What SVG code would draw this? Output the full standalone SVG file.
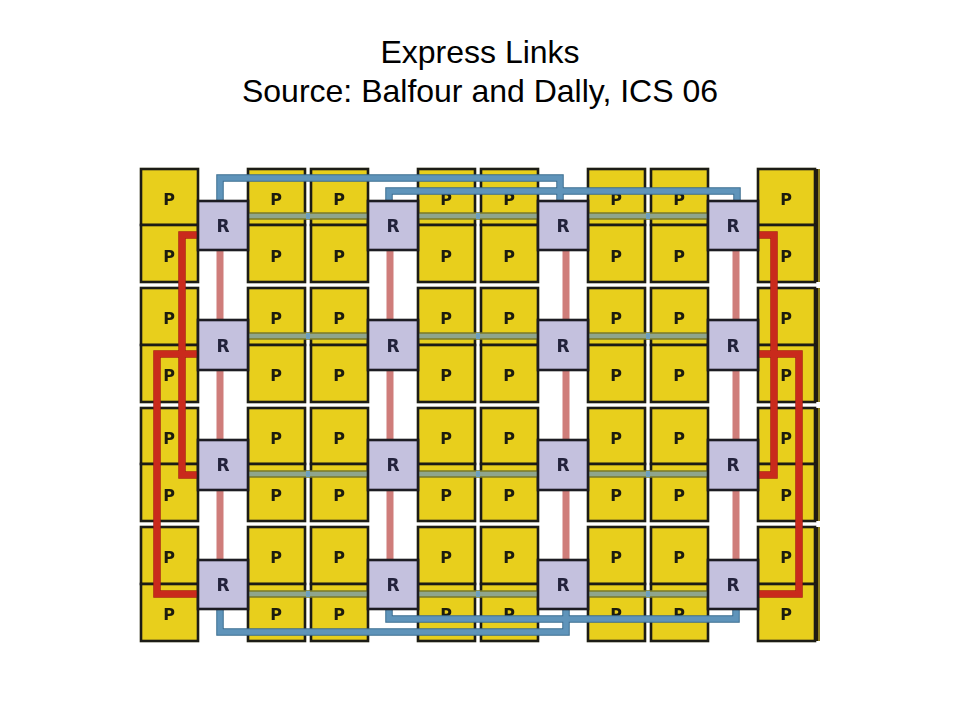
<svg xmlns="http://www.w3.org/2000/svg" width="960" height="720" viewBox="0 0 960 720">
<defs><filter id="soft" x="-2%" y="-2%" width="104%" height="104%"><feGaussianBlur stdDeviation="0.45"/></filter></defs>
<style>
.title{font-family:"Liberation Sans",Arial,sans-serif;font-size:32px;fill:#000;text-anchor:middle}
.p{fill:#e8cf1f;stroke:#1b1a12;stroke-width:2.6}
.r{fill:#c4c1de;stroke:#1b1a22;stroke-width:2.6}
.pt,.rt{font-family:"DejaVu Sans",sans-serif;font-weight:bold;text-anchor:middle}
.pt{font-size:16px;fill:#1e1c10}
.rt{font-size:17px;fill:#23233a}
.link{fill:none;stroke-linejoin:miter}
.be{stroke:#3a6c90;stroke-width:7.5}.bc{stroke:#5f94ba;stroke-width:5.5}
.ge{stroke:#7a7a28;stroke-width:7.5}.gc{stroke:#8fa58c;stroke-width:4.5}
.gg{stroke:#6c9fc0;stroke-width:6}
.pk{stroke:#cf7d7a;stroke-width:7}
.re{stroke:#a82018;stroke-width:7.5}.rc{stroke:#c92a1e;stroke-width:6}
</style>
<rect width="960" height="720" fill="#fff"/>
<text class="title" x="480" y="63">Express Links</text>
<text class="title" x="480" y="102">Source: Balfour and Dally, ICS 06</text>
<g filter="url(#soft)">
<g id="edge">
<rect x="815" y="169" width="3" height="113" fill="#241f10"/><rect x="818" y="169" width="2" height="113" fill="#8a7d20"/>
<rect x="815" y="288" width="3" height="114" fill="#241f10"/><rect x="818" y="288" width="2" height="114" fill="#8a7d20"/>
<rect x="815" y="408" width="3" height="113" fill="#241f10"/><rect x="818" y="408" width="2" height="113" fill="#8a7d20"/>
<rect x="815" y="527" width="3" height="114" fill="#241f10"/><rect x="818" y="527" width="2" height="114" fill="#8a7d20"/>
</g>
<g id="p-row0">
<g id="p00"><rect class="p" x="141" y="169" width="57" height="56"/><text class="pt" x="169" y="205">P</text></g>
<g id="p01"><rect class="p" x="248" y="169" width="57" height="56"/><text class="pt" x="276" y="205">P</text></g>
<g id="p02"><rect class="p" x="311" y="169" width="57" height="56"/><text class="pt" x="339" y="205">P</text></g>
<g id="p03"><rect class="p" x="418" y="169" width="57" height="56"/><text class="pt" x="446" y="205">P</text></g>
<g id="p04"><rect class="p" x="481" y="169" width="57" height="56"/><text class="pt" x="509" y="205">P</text></g>
<g id="p05"><rect class="p" x="588" y="169" width="57" height="56"/><text class="pt" x="616" y="205">P</text></g>
<g id="p06"><rect class="p" x="651" y="169" width="57" height="56"/><text class="pt" x="679" y="205">P</text></g>
<g id="p07"><rect class="p" x="758" y="169" width="57" height="56"/><text class="pt" x="786" y="205">P</text></g>
</g>
<g id="p-row1">
<g id="p10"><rect class="p" x="141" y="225" width="57" height="57"/><text class="pt" x="169" y="262">P</text></g>
<g id="p11"><rect class="p" x="248" y="225" width="57" height="57"/><text class="pt" x="276" y="262">P</text></g>
<g id="p12"><rect class="p" x="311" y="225" width="57" height="57"/><text class="pt" x="339" y="262">P</text></g>
<g id="p13"><rect class="p" x="418" y="225" width="57" height="57"/><text class="pt" x="446" y="262">P</text></g>
<g id="p14"><rect class="p" x="481" y="225" width="57" height="57"/><text class="pt" x="509" y="262">P</text></g>
<g id="p15"><rect class="p" x="588" y="225" width="57" height="57"/><text class="pt" x="616" y="262">P</text></g>
<g id="p16"><rect class="p" x="651" y="225" width="57" height="57"/><text class="pt" x="679" y="262">P</text></g>
<g id="p17"><rect class="p" x="758" y="225" width="57" height="57"/><text class="pt" x="786" y="262">P</text></g>
</g>
<g id="p-row2">
<g id="p20"><rect class="p" x="141" y="288" width="57" height="57"/><text class="pt" x="169" y="324">P</text></g>
<g id="p21"><rect class="p" x="248" y="288" width="57" height="57"/><text class="pt" x="276" y="324">P</text></g>
<g id="p22"><rect class="p" x="311" y="288" width="57" height="57"/><text class="pt" x="339" y="324">P</text></g>
<g id="p23"><rect class="p" x="418" y="288" width="57" height="57"/><text class="pt" x="446" y="324">P</text></g>
<g id="p24"><rect class="p" x="481" y="288" width="57" height="57"/><text class="pt" x="509" y="324">P</text></g>
<g id="p25"><rect class="p" x="588" y="288" width="57" height="57"/><text class="pt" x="616" y="324">P</text></g>
<g id="p26"><rect class="p" x="651" y="288" width="57" height="57"/><text class="pt" x="679" y="324">P</text></g>
<g id="p27"><rect class="p" x="758" y="288" width="57" height="57"/><text class="pt" x="786" y="324">P</text></g>
</g>
<g id="p-row3">
<g id="p30"><rect class="p" x="141" y="345" width="57" height="57"/><text class="pt" x="169" y="381">P</text></g>
<g id="p31"><rect class="p" x="248" y="345" width="57" height="57"/><text class="pt" x="276" y="381">P</text></g>
<g id="p32"><rect class="p" x="311" y="345" width="57" height="57"/><text class="pt" x="339" y="381">P</text></g>
<g id="p33"><rect class="p" x="418" y="345" width="57" height="57"/><text class="pt" x="446" y="381">P</text></g>
<g id="p34"><rect class="p" x="481" y="345" width="57" height="57"/><text class="pt" x="509" y="381">P</text></g>
<g id="p35"><rect class="p" x="588" y="345" width="57" height="57"/><text class="pt" x="616" y="381">P</text></g>
<g id="p36"><rect class="p" x="651" y="345" width="57" height="57"/><text class="pt" x="679" y="381">P</text></g>
<g id="p37"><rect class="p" x="758" y="345" width="57" height="57"/><text class="pt" x="786" y="381">P</text></g>
</g>
<g id="p-row4">
<g id="p40"><rect class="p" x="141" y="408" width="57" height="56"/><text class="pt" x="169" y="444">P</text></g>
<g id="p41"><rect class="p" x="248" y="408" width="57" height="56"/><text class="pt" x="276" y="444">P</text></g>
<g id="p42"><rect class="p" x="311" y="408" width="57" height="56"/><text class="pt" x="339" y="444">P</text></g>
<g id="p43"><rect class="p" x="418" y="408" width="57" height="56"/><text class="pt" x="446" y="444">P</text></g>
<g id="p44"><rect class="p" x="481" y="408" width="57" height="56"/><text class="pt" x="509" y="444">P</text></g>
<g id="p45"><rect class="p" x="588" y="408" width="57" height="56"/><text class="pt" x="616" y="444">P</text></g>
<g id="p46"><rect class="p" x="651" y="408" width="57" height="56"/><text class="pt" x="679" y="444">P</text></g>
<g id="p47"><rect class="p" x="758" y="408" width="57" height="56"/><text class="pt" x="786" y="444">P</text></g>
</g>
<g id="p-row5">
<g id="p50"><rect class="p" x="141" y="464" width="57" height="57"/><text class="pt" x="169" y="501">P</text></g>
<g id="p51"><rect class="p" x="248" y="464" width="57" height="57"/><text class="pt" x="276" y="501">P</text></g>
<g id="p52"><rect class="p" x="311" y="464" width="57" height="57"/><text class="pt" x="339" y="501">P</text></g>
<g id="p53"><rect class="p" x="418" y="464" width="57" height="57"/><text class="pt" x="446" y="501">P</text></g>
<g id="p54"><rect class="p" x="481" y="464" width="57" height="57"/><text class="pt" x="509" y="501">P</text></g>
<g id="p55"><rect class="p" x="588" y="464" width="57" height="57"/><text class="pt" x="616" y="501">P</text></g>
<g id="p56"><rect class="p" x="651" y="464" width="57" height="57"/><text class="pt" x="679" y="501">P</text></g>
<g id="p57"><rect class="p" x="758" y="464" width="57" height="57"/><text class="pt" x="786" y="501">P</text></g>
</g>
<g id="p-row6">
<g id="p60"><rect class="p" x="141" y="527" width="57" height="57"/><text class="pt" x="169" y="563">P</text></g>
<g id="p61"><rect class="p" x="248" y="527" width="57" height="57"/><text class="pt" x="276" y="563">P</text></g>
<g id="p62"><rect class="p" x="311" y="527" width="57" height="57"/><text class="pt" x="339" y="563">P</text></g>
<g id="p63"><rect class="p" x="418" y="527" width="57" height="57"/><text class="pt" x="446" y="563">P</text></g>
<g id="p64"><rect class="p" x="481" y="527" width="57" height="57"/><text class="pt" x="509" y="563">P</text></g>
<g id="p65"><rect class="p" x="588" y="527" width="57" height="57"/><text class="pt" x="616" y="563">P</text></g>
<g id="p66"><rect class="p" x="651" y="527" width="57" height="57"/><text class="pt" x="679" y="563">P</text></g>
<g id="p67"><rect class="p" x="758" y="527" width="57" height="57"/><text class="pt" x="786" y="563">P</text></g>
</g>
<g id="p-row7">
<g id="p70"><rect class="p" x="141" y="584" width="57" height="57"/><text class="pt" x="169" y="620">P</text></g>
<g id="p71"><rect class="p" x="248" y="584" width="57" height="57"/><text class="pt" x="276" y="620">P</text></g>
<g id="p72"><rect class="p" x="311" y="584" width="57" height="57"/><text class="pt" x="339" y="620">P</text></g>
<g id="p73"><rect class="p" x="418" y="584" width="57" height="57"/><text class="pt" x="446" y="620">P</text></g>
<g id="p74"><rect class="p" x="481" y="584" width="57" height="57"/><text class="pt" x="509" y="620">P</text></g>
<g id="p75"><rect class="p" x="588" y="584" width="57" height="57"/><text class="pt" x="616" y="620">P</text></g>
<g id="p76"><rect class="p" x="651" y="584" width="57" height="57"/><text class="pt" x="679" y="620">P</text></g>
<g id="p77"><rect class="p" x="758" y="584" width="57" height="57"/><text class="pt" x="786" y="620">P</text></g>
</g>
<g id="connectors">
<g id="local-vertical">
<path class="link pk" d="M220 250V320M220 370V440M220 490V560"/>
<path class="link pk" d="M390 250V320M390 370V440M390 490V560"/>
<path class="link pk" d="M566 250V320M566 370V440M566 490V560"/>
<path class="link pk" d="M736 250V320M736 370V440M736 490V560"/>
</g>
<g id="local-horizontal">
<path class="link ge" d="M248 216H368M418 216H538M588 216H708M248 336H368M418 336H538M588 336H708M248 474H368M418 474H538M588 474H708M248 594H368M418 594H538M588 594H708"/>
<path class="link gc" d="M248 216H368M418 216H538M588 216H708M248 336H368M418 336H538M588 336H708M248 474H368M418 474H538M588 474H708M248 594H368M418 594H538M588 594H708"/>
<path class="link gg" d="M306 216H310M476 216H480M646 216H650M306 336H310M476 336H480M646 336H650M306 474H310M476 474H480M646 474H650M306 594H310M476 594H480M646 594H650"/>
</g>
<g id="express-blue">
<path class="link be" d="M220 201V178H560V201"/>
<path class="link be" d="M389 201V191H737V201"/>
<path class="link be" d="M220 609V632H566V609"/>
<path class="link be" d="M389 609V619H736V609"/>
<path class="link bc" d="M220 201V178H560V201"/>
<path class="link bc" d="M389 201V191H737V201"/>
<path class="link bc" d="M220 609V632H566V609"/>
<path class="link bc" d="M389 609V619H736V609"/>
</g>
<g id="express-red">
<path class="link re" d="M198 235H182V475H198"/>
<path class="link re" d="M198 354H157V594H198"/>
<path class="link re" d="M758 235H774V475H758"/>
<path class="link re" d="M758 354H799V594H758"/>
<path class="link rc" d="M198 235H182V475H198"/>
<path class="link rc" d="M198 354H157V594H198"/>
<path class="link rc" d="M758 235H774V475H758"/>
<path class="link rc" d="M758 354H799V594H758"/>
</g>
</g>
<g id="routers">
<g id="r00"><rect class="r" x="198" y="201" width="50" height="49"/><text class="rt" x="223" y="232">R</text></g>
<g id="r01"><rect class="r" x="368" y="201" width="50" height="49"/><text class="rt" x="393" y="232">R</text></g>
<g id="r02"><rect class="r" x="538" y="201" width="50" height="49"/><text class="rt" x="563" y="232">R</text></g>
<g id="r03"><rect class="r" x="708" y="201" width="50" height="49"/><text class="rt" x="733" y="232">R</text></g>
<g id="r10"><rect class="r" x="198" y="320" width="50" height="50"/><text class="rt" x="223" y="352">R</text></g>
<g id="r11"><rect class="r" x="368" y="320" width="50" height="50"/><text class="rt" x="393" y="352">R</text></g>
<g id="r12"><rect class="r" x="538" y="320" width="50" height="50"/><text class="rt" x="563" y="352">R</text></g>
<g id="r13"><rect class="r" x="708" y="320" width="50" height="50"/><text class="rt" x="733" y="352">R</text></g>
<g id="r20"><rect class="r" x="198" y="440" width="50" height="50"/><text class="rt" x="223" y="471">R</text></g>
<g id="r21"><rect class="r" x="368" y="440" width="50" height="50"/><text class="rt" x="393" y="471">R</text></g>
<g id="r22"><rect class="r" x="538" y="440" width="50" height="50"/><text class="rt" x="563" y="471">R</text></g>
<g id="r23"><rect class="r" x="708" y="440" width="50" height="50"/><text class="rt" x="733" y="471">R</text></g>
<g id="r30"><rect class="r" x="198" y="560" width="50" height="49"/><text class="rt" x="223" y="591">R</text></g>
<g id="r31"><rect class="r" x="368" y="560" width="50" height="49"/><text class="rt" x="393" y="591">R</text></g>
<g id="r32"><rect class="r" x="538" y="560" width="50" height="49"/><text class="rt" x="563" y="591">R</text></g>
<g id="r33"><rect class="r" x="708" y="560" width="50" height="49"/><text class="rt" x="733" y="591">R</text></g>
</g>
</g>
</svg>
